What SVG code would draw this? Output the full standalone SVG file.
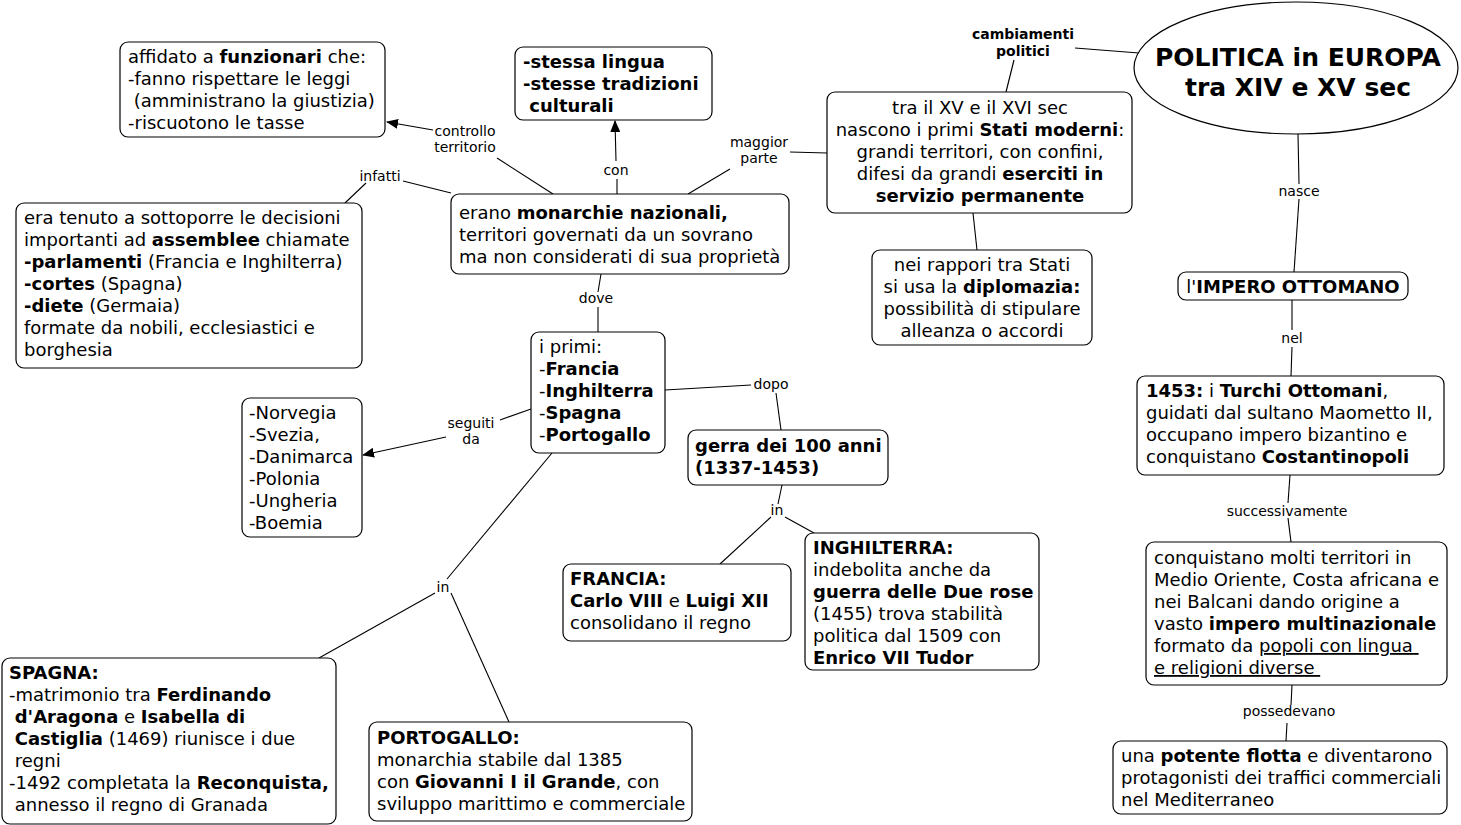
<svg xmlns="http://www.w3.org/2000/svg" width="1461" height="825" viewBox="0 0 1461 825">
<style>
rect.n{fill:#fff;stroke:#000;stroke-width:1.2}
ellipse.n{fill:#fff;stroke:#000;stroke-width:1.2}
text{font-family:"DejaVu Sans","Verdana",sans-serif;fill:#000;white-space:pre}
.t{font-size:18px}
.c{text-anchor:middle}
.l{font-size:14px;text-anchor:middle}
.lb{font-size:14px;font-weight:bold;text-anchor:middle}
.b{font-weight:bold}
.u{text-decoration:underline}
.ti{font-size:25px;font-weight:bold;text-anchor:middle}
#conn line,#conn polyline{stroke:#000;stroke-width:1.1;fill:none}
</style>
<defs>
<marker id="ar" viewBox="0 0 12 10" refX="11" refY="5" markerWidth="12" markerHeight="10" markerUnits="userSpaceOnUse" orient="auto">
<path d="M0,0 L12,5 L0,10 z" fill="#000"/>
</marker>
</defs>
<rect width="1461" height="825" fill="#fff"/>
<g id="conn">
<line x1="553" y1="194" x2="497" y2="158"/>
<line x1="433" y1="130" x2="387" y2="122" marker-end="url(#ar)"/>
<line x1="451" y1="193" x2="403" y2="181"/>
<line x1="366" y1="183" x2="345" y2="203"/>
<line x1="617" y1="194" x2="617" y2="179"/>
<line x1="616" y1="161" x2="615" y2="121" marker-end="url(#ar)"/>
<line x1="688" y1="194" x2="730" y2="169"/>
<line x1="790" y1="152" x2="827" y2="153"/>
<line x1="1075" y1="48" x2="1139" y2="53"/>
<line x1="1014" y1="60" x2="1006" y2="92"/>
<line x1="1298" y1="134" x2="1299" y2="184"/>
<line x1="1299" y1="199" x2="1294" y2="272"/>
<line x1="1292" y1="300" x2="1292" y2="330"/>
<line x1="1292" y1="347" x2="1291" y2="376"/>
<line x1="1290" y1="475" x2="1288" y2="503"/>
<line x1="1288" y1="518" x2="1291" y2="542"/>
<line x1="1292" y1="685" x2="1291" y2="705"/>
<line x1="1287" y1="723" x2="1286" y2="741"/>
<line x1="973" y1="213" x2="977" y2="250"/>
<line x1="601" y1="274" x2="598" y2="292"/>
<line x1="598" y1="307" x2="598" y2="332"/>
<line x1="665" y1="390" x2="751" y2="385"/>
<line x1="776" y1="393" x2="781" y2="430"/>
<line x1="531" y1="409" x2="500" y2="420"/>
<line x1="446" y1="437" x2="363" y2="455" marker-end="url(#ar)"/>
<line x1="552" y1="453" x2="447" y2="579"/>
<line x1="435" y1="593" x2="319" y2="658"/>
<line x1="451" y1="593" x2="509" y2="722"/>
<line x1="782" y1="485" x2="778" y2="504"/>
<line x1="771" y1="517" x2="720" y2="564"/>
<line x1="785" y1="517" x2="814" y2="533"/>
</g>
<g id="labels">
<text class="l" x="465" y="136">controllo</text>
<text class="l" x="465" y="152">territorio</text>
<text class="l" x="380" y="181">infatti</text>
<text class="l" x="616" y="175">con</text>
<text class="l" x="759" y="147">maggior</text>
<text class="l" x="759" y="163">parte</text>
<text class="lb" x="1023" y="39">cambiamenti</text>
<text class="lb" x="1023" y="56">politici</text>
<text class="l" x="1299" y="196">nasce</text>
<text class="l" x="1292" y="343">nel</text>
<text class="l" x="1287" y="516">successivamente</text>
<text class="l" x="1289" y="716">possedevano</text>
<text class="l" x="596" y="303">dove</text>
<text class="l" x="771" y="389">dopo</text>
<text class="l" x="471" y="428">seguiti</text>
<text class="l" x="471" y="444">da</text>
<text class="l" x="443" y="592">in</text>
<text class="l" x="777" y="515">in</text>
</g>
<g id="title">
<ellipse class="n" cx="1296" cy="68" rx="162" ry="66"/>
<text class="ti" x="1298" y="66">POLITICA in EUROPA</text>
<text class="ti" x="1298" y="96">tra XIV e XV sec</text>
</g>
<g id="funzionari">
<rect class="n" x="120" y="42" width="265" height="95" rx="8"/>
<text class="t" x="128" y="63">affidato a <tspan class="b">funzionari</tspan> che:</text>
<text class="t" x="128" y="85">-fanno rispettare le leggi</text>
<text class="t" x="128" y="107"> (amministrano la giustizia)</text>
<text class="t" x="128" y="129">-riscuotono le tasse</text>
</g>
<g id="lingua">
<rect class="n" x="515" y="47" width="197" height="73" rx="8"/>
<text class="t b" x="523" y="68">-stessa lingua</text>
<text class="t b" x="523" y="90">-stesse tradizioni</text>
<text class="t b" x="523" y="112"> culturali</text>
</g>
<g id="statimoderni">
<rect class="n" x="827" y="92" width="305" height="121" rx="8"/>
<text class="t c" x="980" y="114">tra il XV e il XVI sec</text>
<text class="t c" x="980" y="136">nascono i primi <tspan class="b">Stati moderni</tspan>:</text>
<text class="t c" x="980" y="158">grandi territori, con confini,</text>
<text class="t c" x="980" y="180">difesi da grandi <tspan class="b">eserciti in</tspan></text>
<text class="t c b" x="980" y="202">servizio permanente</text>
</g>
<g id="monarchie">
<rect class="n" x="451" y="194" width="338" height="80" rx="8"/>
<text class="t" x="459" y="219">erano <tspan class="b">monarchie nazionali,</tspan></text>
<text class="t" x="459" y="241">territori governati da un sovrano</text>
<text class="t" x="459" y="263">ma non considerati di sua proprietà</text>
</g>
<g id="assemblee">
<rect class="n" x="16" y="203" width="346" height="165" rx="8"/>
<text class="t" x="24" y="224">era tenuto a sottoporre le decisioni</text>
<text class="t" x="24" y="246">importanti ad <tspan class="b">assemblee</tspan> chiamate</text>
<text class="t" x="24" y="268"><tspan class="b">-parlamenti</tspan> (Francia e Inghilterra)</text>
<text class="t" x="24" y="290"><tspan class="b">-cortes</tspan> (Spagna)</text>
<text class="t" x="24" y="312"><tspan class="b">-diete</tspan> (Germaia)</text>
<text class="t" x="24" y="334">formate da nobili, ecclesiastici e</text>
<text class="t" x="24" y="356">borghesia</text>
</g>
<g id="diplomazia">
<rect class="n" x="872" y="250" width="220" height="95" rx="8"/>
<text class="t c" x="982" y="271">nei rappori tra Stati</text>
<text class="t c" x="982" y="293">si usa la <tspan class="b">diplomazia:</tspan></text>
<text class="t c" x="982" y="315">possibilità di stipulare</text>
<text class="t c" x="982" y="337">alleanza o accordi</text>
</g>
<g id="impero">
<rect class="n" x="1178" y="272" width="230" height="28" rx="8"/>
<text class="t c" x="1293" y="293">l'<tspan class="b">IMPERO OTTOMANO</tspan></text>
</g>
<g id="primi">
<rect class="n" x="531" y="332" width="134" height="121" rx="8"/>
<text class="t" x="539" y="353">i primi:</text>
<text class="t" x="539" y="375">-<tspan class="b">Francia</tspan></text>
<text class="t" x="539" y="397">-<tspan class="b">Inghilterra</tspan></text>
<text class="t" x="539" y="419">-<tspan class="b">Spagna</tspan></text>
<text class="t" x="539" y="441">-<tspan class="b">Portogallo</tspan></text>
</g>
<g id="nordici">
<rect class="n" x="242" y="398" width="120" height="139" rx="8"/>
<text class="t" x="249" y="419">-Norvegia</text>
<text class="t" x="249" y="441">-Svezia,</text>
<text class="t" x="249" y="463">-Danimarca</text>
<text class="t" x="249" y="485">-Polonia</text>
<text class="t" x="249" y="507">-Ungheria</text>
<text class="t" x="249" y="529">-Boemia</text>
</g>
<g id="guerra">
<rect class="n" x="688" y="430" width="200" height="55" rx="8"/>
<text class="t b" x="695" y="452">gerra dei 100 anni</text>
<text class="t b" x="695" y="474">(1337-1453)</text>
</g>
<g id="turchi">
<rect class="n" x="1137" y="376" width="307" height="99" rx="8"/>
<text class="t" x="1146" y="397"><tspan class="b">1453:</tspan> i <tspan class="b">Turchi Ottomani</tspan>,</text>
<text class="t" x="1146" y="419">guidati dal sultano Maometto II,</text>
<text class="t" x="1146" y="441">occupano impero bizantino e</text>
<text class="t" x="1146" y="463">conquistano <tspan class="b">Costantinopoli</tspan></text>
</g>
<g id="multinazionale">
<rect class="n" x="1146" y="542" width="301" height="143" rx="8"/>
<text class="t" x="1154" y="564">conquistano molti territori in</text>
<text class="t" x="1154" y="586">Medio Oriente, Costa africana e</text>
<text class="t" x="1154" y="608">nei Balcani dando origine a</text>
<text class="t" x="1154" y="630">vasto <tspan class="b">impero multinazionale</tspan></text>
<text class="t" x="1154" y="652">formato da <tspan class="u">popoli con lingua </tspan></text>
<text class="t" x="1154" y="674"><tspan class="u">e religioni diverse </tspan></text>
</g>
<g id="francia">
<rect class="n" x="563" y="564" width="228" height="77" rx="8"/>
<text class="t b" x="570" y="585">FRANCIA:</text>
<text class="t" x="570" y="607"><tspan class="b">Carlo VIII</tspan> e <tspan class="b">Luigi XII</tspan></text>
<text class="t" x="570" y="629">consolidano il regno</text>
</g>
<g id="inghilterra">
<rect class="n" x="805" y="533" width="234" height="137" rx="8"/>
<text class="t b" x="813" y="554">INGHILTERRA:</text>
<text class="t" x="813" y="576">indebolita anche da</text>
<text class="t b" x="813" y="598">guerra delle Due rose</text>
<text class="t" x="813" y="620">(1455) trova stabilità</text>
<text class="t" x="813" y="642">politica dal 1509 con</text>
<text class="t b" x="813" y="664">Enrico VII Tudor</text>
</g>
<g id="spagna">
<rect class="n" x="2" y="658" width="334" height="166" rx="8"/>
<text class="t b" x="9" y="679">SPAGNA:</text>
<text class="t" x="9" y="701">-matrimonio tra <tspan class="b">Ferdinando</tspan></text>
<text class="t" x="9" y="723"> <tspan class="b">d'Aragona</tspan> e <tspan class="b">Isabella di</tspan></text>
<text class="t" x="9" y="745"> <tspan class="b">Castiglia</tspan> (1469) riunisce i due</text>
<text class="t" x="9" y="767"> regni</text>
<text class="t" x="9" y="789">-1492 completata la <tspan class="b">Reconquista,</tspan></text>
<text class="t" x="9" y="811"> annesso il regno di Granada</text>
</g>
<g id="portogallo">
<rect class="n" x="369" y="722" width="323" height="99" rx="8"/>
<text class="t b" x="377" y="744">PORTOGALLO:</text>
<text class="t" x="377" y="766">monarchia stabile dal 1385</text>
<text class="t" x="377" y="788">con <tspan class="b">Giovanni I il Grande</tspan>, con</text>
<text class="t" x="377" y="810">sviluppo marittimo e commerciale</text>
</g>
<g id="flotta">
<rect class="n" x="1113" y="741" width="334" height="73" rx="8"/>
<text class="t" x="1121" y="762">una <tspan class="b">potente flotta</tspan> e diventarono</text>
<text class="t" x="1121" y="784">protagonisti dei traffici commerciali</text>
<text class="t" x="1121" y="806">nel Mediterraneo</text>
</g>
</svg>
